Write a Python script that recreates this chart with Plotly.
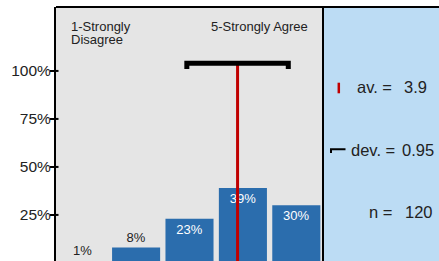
import plotly.graph_objects as go

# ---- data ----
categories = [1, 2, 3, 4, 5]
percent = [1, 8, 23, 39, 30]
bar_labels = ["1%", "8%", "23%", "39%", "30%"]
label_pos = ["outside", "outside", "inside", "inside", "inside"]
mean_val = 3.9
std_dev = 0.95
n_resp = 120
y_ticks = [25, 50, 75, 100]
y_tick_labels = ["25%", "50%", "75%", "100%"]
low_label = ["1-Strongly", "Disagree"]
high_label = "5-Strongly Agree"

# ---- geometry helpers ----
W, H = 439, 261
L, T, R, B = 56, 7, 116, 0
PW, PH = W - L - R, H - T - B


def px(x):
    return (x - L) / PW


def py(y):
    return 1 - (y - T) / PH


BAR_BLUE = "#2b6dad"
RED = "#c00000"
PANEL = "#bcdcf4"
TXT = "#222222"
FONT = "Arial, Liberation Sans, sans-serif"

ERR_Y = 104
CAP_Y = 101

fig = go.Figure()
fig.add_trace(go.Bar(
    x=categories, y=percent, width=0.9,
    marker=dict(color=BAR_BLUE, line=dict(width=0)),
    text=bar_labels, textposition=label_pos,
    insidetextfont=dict(color="white", size=13, family=FONT),
    outsidetextfont=dict(color=TXT, size=13, family=FONT),
    textangle=0, cliponaxis=False, hoverinfo="skip",
))
fig.add_trace(go.Scatter(
    x=[mean_val, mean_val], y=[0, ERR_Y], mode="lines",
    line=dict(color=RED, width=3), hoverinfo="skip",
))
fig.add_trace(go.Scatter(
    x=[mean_val - std_dev, mean_val - std_dev, mean_val + std_dev, mean_val + std_dev],
    y=[CAP_Y, ERR_Y, ERR_Y, CAP_Y], mode="lines",
    line=dict(color="black", width=5), hoverinfo="skip",
))

shapes = [
    dict(type="line", xref="paper", yref="paper", x0=0, x1=1, y0=1, y1=1,
         line=dict(color="black", width=2)),
    dict(type="rect", xref="paper", yref="paper", x0=1, x1=px(470), y0=py(280), y1=1,
         fillcolor=PANEL, line=dict(color="black", width=2), layer="below"),
    dict(type="line", xref="paper", yref="paper", x0=px(338.8), x1=px(338.8),
         y0=py(82.7), y1=py(93.3), line=dict(color=RED, width=2.5)),
    dict(type="path", xref="paper", yref="paper",
         path=f"M{px(331)},{py(153)} L{px(331)},{py(149.3)} L{px(345.5)},{py(149.3)}",
         line=dict(color="black", width=2)),
]
for t in y_ticks:
    shapes.append(dict(type="line", xref="paper", yref="y", xsizemode="pixel", xanchor=0,
                       x0=0, x1=2.5, y0=t, y1=t, line=dict(color="black", width=2)))

ann = []


def add_text(text, x, y, xanchor="left", size=16.5):
    ann.append(dict(text=text, xref="paper", yref="paper", x=px(x), y=py(y),
                    xanchor=xanchor, yanchor="middle", showarrow=False,
                    font=dict(size=size, color=TXT, family=FONT)))


add_text(low_label[0], 68.5, 26.3, size=13)
add_text(low_label[1], 68.5, 39.6, size=13)
add_text(high_label, 310, 26.3, xanchor="right", size=13)
add_text("av. =", 355, 86.5)
add_text(f"{mean_val}", 402, 86.5)
add_text("dev. =", 349, 149.5)
add_text(f"{std_dev}", 400, 149.5)
add_text("n =", 367, 212)
add_text(f"{n_resp}", 403, 212)

fig.update_layout(
    width=W, height=H,
    margin=dict(l=L, r=R, t=T, b=B, pad=0),
    paper_bgcolor="white", plot_bgcolor="#e5e5e5",
    showlegend=False, bargap=0.1,
    font=dict(family=FONT, color=TXT),
    shapes=shapes, annotations=ann,
    xaxis=dict(range=[0.5, 5.5], showticklabels=False, showgrid=False,
               zeroline=False, showline=False, ticks="", fixedrange=True),
    yaxis=dict(range=[1.0, 133.3], tickvals=y_ticks, ticktext=y_tick_labels,
               ticks="outside", ticklen=4, tickwidth=2, tickcolor="black",
               showline=True, linewidth=2, linecolor="black",
               showgrid=False, zeroline=False, ticklabelstandoff=-4,
               tickfont=dict(size=15.5, color=TXT, family=FONT), fixedrange=True),
)

fig.write_html("out.html", config={"displayModeBar": False},
               post_script="document.body.style.margin='0px';document.body.style.overflow='hidden';")
